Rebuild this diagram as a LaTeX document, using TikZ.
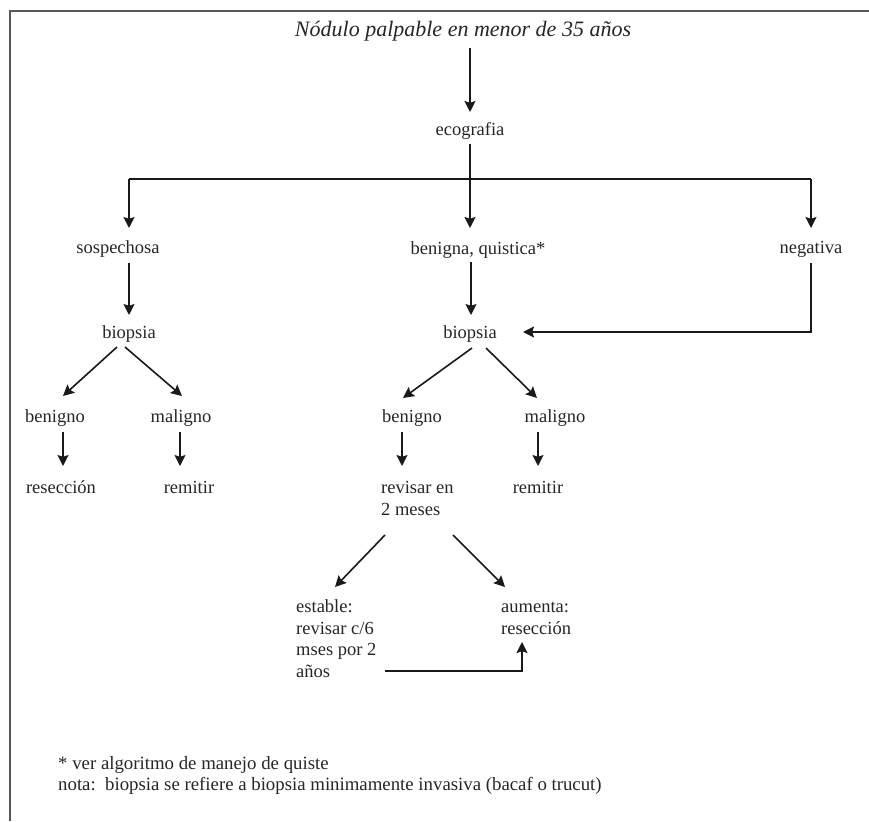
\documentclass[tikz,border=0pt]{standalone}
\usepackage{fontspec}
\setmainfont{Liberation Serif}
\usetikzlibrary{arrows.meta}
\begin{document}
\begin{tikzpicture}[x=1pt,y=-1pt,
  lbl/.style={inner sep=0pt, font=\fontsize{18.5}{21.5}\selectfont, text=black!85},
  lbll/.style={lbl, align=left, anchor=base west},
  arr/.style={line width=1.6pt, black!90, -{Stealth[length=11pt,width=11pt,inset=1.8pt]}},
  ln/.style={line width=1.6pt, black!90},
  frame/.style={line width=2pt, black!65}]
\useasboundingbox (0,0) rectangle (869,821);
\draw[frame] (10,821) -- (10,11) -- (869,11);

% nodes
\node[lbl, font=\fontsize{22}{26}\selectfont\itshape] (title) at (463,31) {Nódulo palpable en menor de 35 años};
\node[lbl] (eco) at (470,131) {ecografia};
\node[lbl] (sosp) at (118,249) {sospechosa};
\node[lbl] (benq) at (478,250) {benigna, quistica*};
\node[lbl] (neg) at (811,249) {negativa};
\node[lbl] (bioA) at (129,334) {biopsia};
\node[lbl] (bioB) at (470,334) {biopsia};
\node[lbl] (benA) at (55,418) {benigno};
\node[lbl] (malA) at (181,418) {maligno};
\node[lbl] (resA) at (61,487) {resección};
\node[lbl] (remA) at (189,487) {remitir};
\node[lbl] (benB) at (412,418) {benigno};
\node[lbl] (malB) at (555,418) {maligno};
\node[lbll] (rev) at (381,515) {revisar en\\2 meses};
\node[lbl] (remB) at (538,487) {remitir};
\node[lbll] (est) at (296,677) {estable:\\revisar c/6\\mses por 2\\años};
\node[lbll] (aum) at (501,634) {aumenta:\\resección};
\node[lbll, font=\fontsize{18.8}{21}\selectfont] (notes) at (58,790) {* ver algoritmo de manejo de quiste\\nota:\ \ biopsia se refiere a biopsia minimamente invasiva (bacaf o trucut)};

% coordinates
\coordinate (t0) at (470,48);
\coordinate (t1) at (470,112);
\coordinate (e0) at (470,144);
\coordinate (e1) at (470,228);
\coordinate (hL) at (129,179);
\coordinate (hR) at (811,179);
\coordinate (sL) at (129,228);
\coordinate (sR) at (811,228);
\coordinate (n0) at (811,263);
\coordinate (n1) at (811,332);
\coordinate (n2) at (523,332);
\coordinate (bq0) at (471,262);
\coordinate (bq1) at (471,315);
\coordinate (sp0) at (129,263);
\coordinate (sp1) at (129,315);

\draw[arr] (t0) -- (t1);
\draw[arr] (e0) -- (e1);
\draw[ln] (hL) -- (hR);
\draw[arr] (hL) -- (sL);
\draw[arr] (hR) -- (sR);
\draw[arr] (sp0) -- (sp1);
\draw[arr] (bq0) -- (bq1);
\draw[arr] (n0) -- (n1) -- (n2);

% left biopsia
\coordinate (a1) at (117,347); \coordinate (a2) at (63,396);
\coordinate (a3) at (125,347); \coordinate (a4) at (182,396);
\draw[arr] (a1) -- (a2);
\draw[arr] (a3) -- (a4);
\coordinate (a5) at (63,432); \coordinate (a6) at (63,466);
\coordinate (a7) at (180,432); \coordinate (a8) at (180,466);
\draw[arr] (a5) -- (a6);
\draw[arr] (a7) -- (a8);

% center biopsia
\coordinate (b1) at (472,348); \coordinate (b2) at (403,398);
\coordinate (b3) at (486,348); \coordinate (b4) at (537,398);
\draw[arr] (b1) -- (b2);
\draw[arr] (b3) -- (b4);
\coordinate (b5) at (402,432); \coordinate (b6) at (402,466);
\coordinate (b7) at (538,432); \coordinate (b8) at (538,466);
\draw[arr] (b5) -- (b6);
\draw[arr] (b7) -- (b8);

% revisar
\coordinate (c1) at (385,535); \coordinate (c2) at (335,587);
\coordinate (c3) at (453,535); \coordinate (c4) at (505,587);
\draw[arr] (c1) -- (c2);
\draw[arr] (c3) -- (c4);
\coordinate (d1) at (385,671); \coordinate (d2) at (522,671); \coordinate (d3) at (522,642);
\draw[arr] (d1) -- (d2) -- (d3);
\end{tikzpicture}
\end{document}
